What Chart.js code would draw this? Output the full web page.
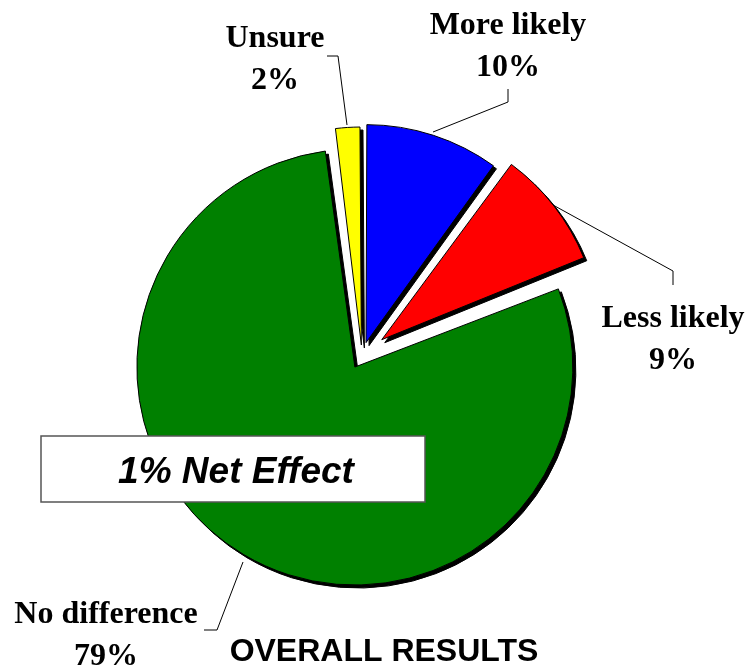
<!DOCTYPE html>
<html>
<head>
<meta charset="utf-8">
<script src="https://cdn.jsdelivr.net/npm/chart.js@4/dist/chart.umd.min.js"></script>
<style>
  html, body { margin: 0; padding: 0; background: #fff; }
  #wrap { width: 747px; height: 669px; position: relative; }
</style>
</head>
<body>
<div id="wrap"><canvas id="pie"></canvas></div>
<script>
// slices, clockwise from 12 o'clock
const categories = ['More likely', 'Less likely', 'No difference', 'Unsure'];
const values = [10, 9, 79, 2];
const sliceColors = ['#0000ff', '#ff0000', '#008000', '#ffff00'];
const explode = [13, 25, 14, 10];   // px each slice is pulled out
const netEffect = '1% Net Effect';
const chartTitle = 'OVERALL RESULTS';

const PIE_R = 218;

// label text + leader line for each slice (same order as categories)
const labelPos = [
  { x: 508, y: 34, line: [[508, 89], [508, 102], [433, 132]] },
  { x: 673, y: 327, line: [[553, 205], [673, 271], [673, 285]] },
  { x: 106, y: 623, line: [[243, 562], [217, 630], [204, 630]] },
  { x: 275, y: 47, line: [[327, 56], [338, 56], [347, 125]] }
];

const shadowPlugin = {
  id: 'shadow',
  afterDatasetsUpdate(chart) {
    // chart.js grows exploded arcs a bit, take that back so all slices share one radius
    chart.getDatasetMeta(0).data.forEach(arc => {
      const off = (arc.options.offset || 0) / 4;
      const fix = 1 - Math.sin(Math.min(Math.PI, arc.circumference));
      arc.outerRadius = PIE_R - off * fix;
    });
  },
  beforeDatasetsDraw(chart) {
    // solid black drop shadow, drawn once before the slices
    const ctx = chart.ctx;
    ctx.save();
    ctx.translate(3, 3);
    chart.getDatasetMeta(0).data.forEach(arc => {
      const o = arc.options;
      arc.options = Object.assign({}, o, { backgroundColor: '#000', borderColor: '#000' });
      arc.draw(ctx);
      arc.options = o;
    });
    ctx.restore();
  }
};

const labelPlugin = {
  id: 'labels',
  afterDraw(chart) {
    const ctx = chart.ctx;
    ctx.save();
    // leader lines
    ctx.strokeStyle = '#000';
    ctx.lineWidth = 1;
    labelPos.forEach(p => {
      ctx.beginPath();
      p.line.forEach((pt, i) => i ? ctx.lineTo(pt[0], pt[1]) : ctx.moveTo(pt[0], pt[1]));
      ctx.stroke();
    });
    // slice labels
    ctx.fillStyle = '#000';
    ctx.textAlign = 'center';
    ctx.textBaseline = 'alphabetic';
    ctx.font = 'bold 32px "Liberation Serif", "Times New Roman", serif';
    const total = values.reduce((a, b) => a + b, 0);
    labelPos.forEach((p, i) => {
      ctx.fillText(categories[i], p.x, p.y);
      ctx.fillText(Math.round(values[i] / total * 100) + '%', p.x, p.y + 42);
    });
    // net effect box
    ctx.fillStyle = '#fff';
    ctx.fillRect(41, 436, 384, 66);
    ctx.strokeStyle = '#555';
    ctx.lineWidth = 1.5;
    ctx.strokeRect(41, 436, 384, 66);
    ctx.fillStyle = '#000';
    ctx.font = 'italic bold 37px "Liberation Sans", Arial, sans-serif';
    ctx.fillText(netEffect, 236, 483);
    // title under the pie
    ctx.font = 'bold 32px "Liberation Sans", Arial, sans-serif';
    ctx.fillText(chartTitle, 384, 661);
    ctx.restore();
  }
};

new Chart(document.getElementById('pie'), {
  type: 'pie',
  data: {
    labels: categories,
    datasets: [{
      data: values,
      backgroundColor: sliceColors,
      borderColor: '#000',
      borderWidth: 1,
      offset: explode.map(v => v * 4)
    }]
  },
  options: {
    responsive: true,
    maintainAspectRatio: false,
    animation: false,
    radius: PIE_R,
    layout: { padding: { left: 0, right: 23, top: 41, bottom: 0 } },
    plugins: {
      legend: { display: false },
      tooltip: { enabled: false }
    }
  },
  plugins: [shadowPlugin, labelPlugin]
});
</script>
</body>
</html>
